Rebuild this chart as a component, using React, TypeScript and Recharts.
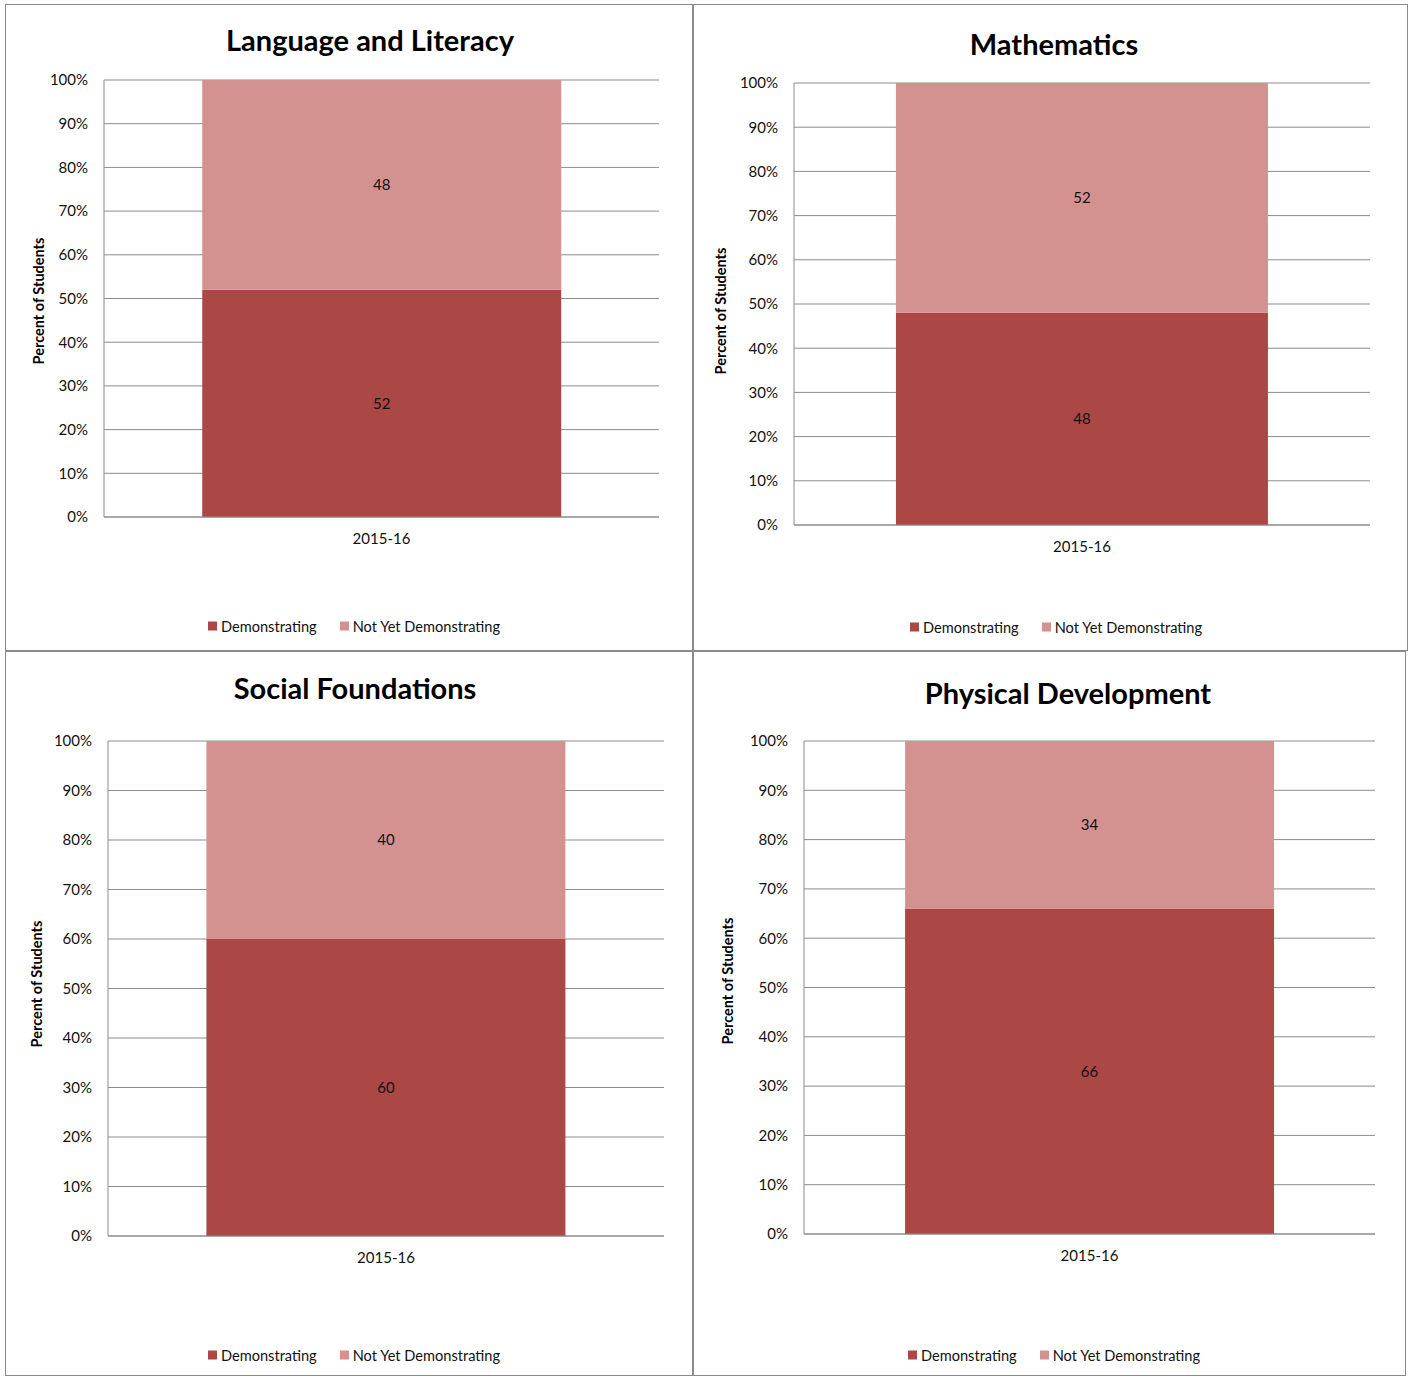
import React from "react";
import { BarChart, Bar, XAxis, YAxis, CartesianGrid, LabelList } from "recharts";

const years = ["2015-16"];
const titles = ["Language and Literacy", "Mathematics", "Social Foundations", "Physical Development"];
const demonstrating = [52, 48, 60, 66];
const notYet = [48, 52, 40, 34];
const yTicks = [0, 10, 20, 30, 40, 50, 60, 70, 80, 90, 100];

const DARK = "#AB4744";
const LIGHT = "#D39190";
const GRID = "#8c8c8c";
const FONT = "Lato, 'Open Sans', sans-serif";

// panel boxes and plot areas, page pixels
const panels = [
  { left: 5, top: 4, w: 688, h: 647, pl: 104, pr: 659, pt: 79, pb: 516, tx: 369, ty: 38, lx: 37, ly: 300, legY: 625, legX: 353 },
  { left: 693, top: 4, w: 715, h: 647, pl: 794, pr: 1370, pt: 82, pb: 524, tx: 1053, ty: 42, lx: 719, ly: 310, legY: 626, legX: 1055 },
  { left: 5, top: 651, w: 688, h: 725, pl: 108, pr: 664, pt: 740, pb: 1235, tx: 354, ty: 686, lx: 35, ly: 983, legY: 1354, legX: 353 },
  { left: 693, top: 651, w: 713, h: 725, pl: 804, pr: 1375, pt: 740, pb: 1233, tx: 1067, ty: 691, lx: 726, ly: 980, legY: 1354, legX: 1053 },
];

const legendItems = [
  { name: "Demonstrating", color: DARK },
  { name: "Not Yet Demonstrating", color: LIGHT },
];

const LegendBox = () => (
  <div style={{ display: "flex", justifyContent: "center", gap: 23, fontFamily: FONT, fontSize: 14.6, color: "#111" }}>
    {legendItems.map((it) => (
      <div key={it.name} style={{ display: "flex", alignItems: "center" }}>
        <span style={{ width: 9, height: 9, background: it.color, display: "inline-block", marginRight: 4 }} />
        {it.name}
      </div>
    ))}
  </div>
);

const Panel = ({ idx }: { idx: number }) => {
  const p = panels[idx];
  const data = years.map((y) => ({ name: y, demo: demonstrating[idx], notYet: notYet[idx] }));
  const yAxisW = 60;
  const marginLeft = p.pl - p.left - yAxisW;
  const xAxisH = 30;
  const marginBottom = p.top + p.h - p.pb - xAxisH;
  return (
    <div style={{ position: "absolute", left: p.left, top: p.top, width: p.w, height: p.h, border: "1px solid #8a8a8a", boxSizing: "border-box" }}>
      <div style={{ position: "absolute", left: -1, top: 0 }}>
        <BarChart
          width={p.w}
          height={p.h}
          data={data}
          barCategoryGap="17.7%"
          margin={{ top: p.pt - p.top, right: p.left + p.w - p.pr, bottom: marginBottom, left: marginLeft }}
        >
          <CartesianGrid vertical={false} stroke={GRID} strokeWidth={1} />
          <XAxis
            dataKey="name"
            height={xAxisH}
            axisLine={{ stroke: GRID }}
            tickLine={false}
            tickMargin={10}
            tick={{ fill: "#111", fontSize: 15, fontFamily: FONT }}
          />
          <YAxis
            width={yAxisW}
            domain={[0, 100]}
            ticks={yTicks}
            interval={0}
            tickFormatter={(v) => `${v}%`}
            axisLine={{ stroke: GRID }}
            tickLine={false}
            tickMargin={10}
            tick={{ fill: "#111", fontSize: 15, fontFamily: FONT }}
          />
          <Bar dataKey="demo" name="Demonstrating" stackId="a" fill={DARK} isAnimationActive={false}>
            <LabelList dataKey="demo" position="center" fill="#111" fontSize={15} fontFamily={FONT} />
          </Bar>
          <Bar dataKey="notYet" name="Not Yet Demonstrating" stackId="a" fill={LIGHT} isAnimationActive={false}>
            <LabelList dataKey="notYet" position="center" fill="#111" fontSize={15} fontFamily={FONT} />
          </Bar>
        </BarChart>
      </div>
      <div
        style={{
          position: "absolute",
          left: p.tx - p.left,
          top: p.ty - p.top,
          transform: "translate(-50%, -50%)",
          fontFamily: FONT,
          fontWeight: 700,
          fontSize: 29,
          whiteSpace: "nowrap",
          color: "#000",
        }}
      >
        {titles[idx]}
      </div>
      <div
        style={{
          position: "absolute",
          left: p.lx - p.left,
          top: p.ly - p.top,
          transform: "translate(-50%, -50%) rotate(-90deg)",
          fontFamily: FONT,
          fontWeight: 700,
          fontSize: 14.5,
          whiteSpace: "nowrap",
          color: "#000",
        }}
      >
        Percent of Students
      </div>
      <div style={{ position: "absolute", left: p.legX - p.left - 300, top: p.legY - p.top, width: 600, transform: "translateY(-50%)" }}>
        <LegendBox />
      </div>
    </div>
  );
};

export default function App() {
  return (
    <div style={{ position: "absolute", left: 0, top: 0, width: 1409, height: 1376, background: "#fff" }}>
      {panels.map((_, i) => (
        <Panel key={i} idx={i} />
      ))}
    </div>
  );
}
